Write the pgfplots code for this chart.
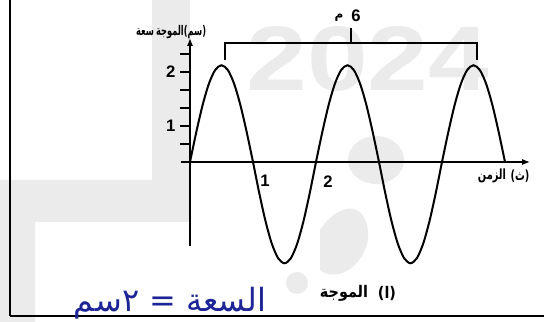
\documentclass[border=0pt]{standalone}
\usepackage{pgfplots}
\pgfplotsset{compat=1.18}
\usepackage{fontspec}
\setmainfont{Liberation Sans}
\newfontfamily\arabicfont[Script=Arabic]{DejaVu Sans}
\usetikzlibrary{arrows.meta}
\TeXXeTstate=1
\definecolor{wm}{RGB}{235,235,235}
\definecolor{ink}{RGB}{28,36,150}

\begin{document}
\begin{tikzpicture}
\useasboundingbox (0,0) rectangle (408pt,241.5pt);
% faint watermark behind the figure
\begin{scope}[x=0.75pt,y=-0.75pt,yshift=241.5pt]
  \fill[wm] (0,180) -- (165,180) .. controls (185,180) and (190,205) .. (175,222) -- (35,222) -- (35,322) -- (0,322) -- cycle;
  \fill[wm] (152,0) rectangle (190,222);
  \fill[wm] (376,160) ellipse (28 and 24);
  \fill[wm] (320,230) .. controls (340,200) and (370,200) .. (368,240) .. controls (360,275) and (330,280) .. (320,270) -- cycle;
  \fill[wm] (297,283) circle (11);
  \node[wm, inner sep=0pt] at (368,59) {\resizebox{182pt}{48pt}{\bfseries 2024}};
\end{scope}

\begin{axis}[
  at={(142.5pt,120pt)}, anchor=origin,
  x=47.25pt, y=33.75pt,
  xmin=-0.15, xmax=5.40, ymin=-1.87, ymax=2.76,
  axis lines=middle,
  axis line style={line width=1.1pt, -{Latex[length=6pt,width=4.5pt]}},
  clip=false,
  xtick={1,2}, xticklabels={1,2},
  xtick style={draw=none},
  xticklabel style={anchor=north west, xshift=2pt, yshift=1pt, font=\bfseries\fontsize{12.5}{13}\selectfont},
  ytick={0.4,0.8,1.2,1.6,2.0,2.4}, yticklabels={,1,,,2,},
  ytick style={line width=1pt, black},
  major tick length=7.5pt, tick align=outside,
  yticklabel style={font=\bfseries\fontsize{12.5}{13}\selectfont},
  /pgf/number format/assume math mode=true,
]
% displacement of the wave (cm) against time (s)
\addplot[line width=1.5pt, smooth, black] coordinates {
 (0,0) (0.1,0.664) (0.2,1.264) (0.3,1.739) (0.4,2.045) (0.5,2.15) (0.6,2.045) (0.7,1.739) (0.8,1.264) (0.9,0.664)
 (1.0,0) (1.1,-0.695) (1.2,-1.323) (1.3,-1.820) (1.4,-2.140) (1.5,-2.25) (1.6,-2.140) (1.7,-1.820) (1.8,-1.323) (1.9,-0.695)
 (2.0,0) (2.1,0.664) (2.2,1.264) (2.3,1.739) (2.4,2.045) (2.5,2.15) (2.6,2.045) (2.7,1.739) (2.8,1.264) (2.9,0.664)
 (3.0,0) (3.1,-0.695) (3.2,-1.323) (3.3,-1.820) (3.4,-2.140) (3.5,-2.25) (3.6,-2.140) (3.7,-1.820) (3.8,-1.323) (3.9,-0.695)
 (4.0,0) (4.1,0.664) (4.2,1.264) (4.3,1.739) (4.4,2.045) (4.5,2.15) (4.6,2.045) (4.7,1.739) (4.8,1.264) (4.9,0.664)
 (5.0,0)
};
% bracket spanning two wavelengths
\draw[line width=1.4pt] (axis cs:0.55,2.27) -- (axis cs:0.55,2.64) -- (axis cs:4.55,2.64) -- (axis cs:4.55,2.27);
\draw[line width=1.4pt] (axis cs:2.56,2.64) -- (axis cs:2.56,2.98);
\end{axis}

\begin{scope}[x=0.75pt,y=-0.75pt,yshift=241.5pt]
  % frame of the exercise box
  \draw[line width=1.2pt] (10,0) -- (10,316);
  \draw[line width=1.5pt] (10,316) -- (544,316);
  % bracket label
  \node[inner sep=0pt, font=\arabicfont\bfseries\fontsize{9}{9}\selectfont] at (339,18) {م};
  \node[inner sep=0pt, font=\bfseries\fontsize{12.5}{13}\selectfont] at (356,16) {6};
  % vertical axis title, one word group per node
  \begin{scope}[every node/.style={inner sep=0pt, font=\arabicfont\bfseries\fontsize{10}{11}\selectfont, xscale=0.62}]
    \node at (145,32) {سعة};
    \node at (170,32) {الموجة};
    \node at (195,32) {\mbox{(سم)}};
  \end{scope}
  % horizontal axis title
  \begin{scope}[every node/.style={inner sep=0pt, font=\arabicfont\bfseries\fontsize{10.5}{11}\selectfont, xscale=0.7}]
    \node at (492,176) {الزمن};
    \node at (520,176) {\mbox{(ث)}};
  \end{scope}
  % caption
  \begin{scope}[every node/.style={inner sep=0pt, font=\arabicfont\bfseries\fontsize{12}{13}\selectfont, xscale=0.9}]
    \node at (344,293) {الموجة};
    \node at (387,293) {\mbox{(ا)}};
  \end{scope}
  % handwritten note
  \node[inner sep=0pt, ink, font=\arabicfont\fontsize{24}{26}\selectfont] at (170,303) {\beginR السعة = ٢سم\endR};
\end{scope}
\end{tikzpicture}
\end{document}
